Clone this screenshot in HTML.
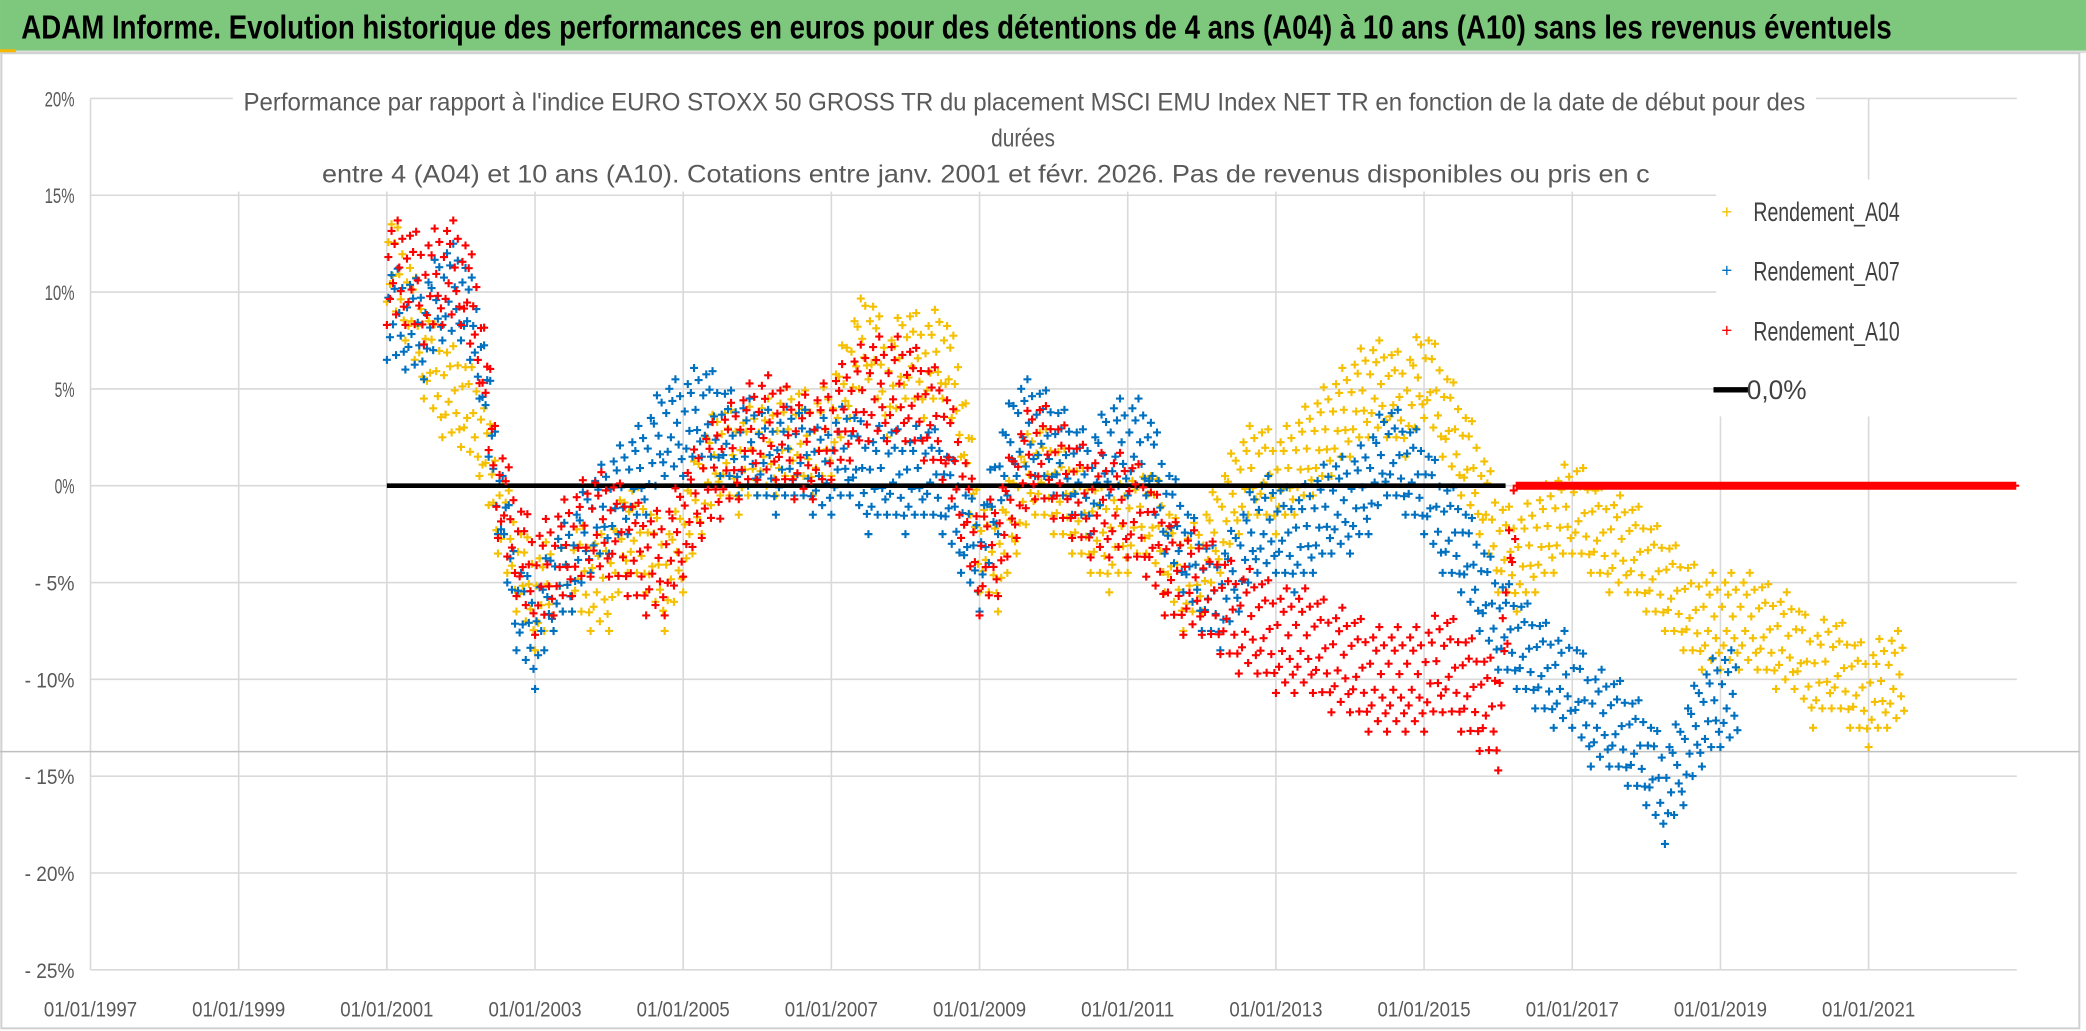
<!DOCTYPE html>
<html><head><meta charset="utf-8"><style>
html,body{margin:0;padding:0;background:#fff;}
svg{display:block;}
</style></head><body>
<svg id="chart" width="2086" height="1031" viewBox="0 0 1568 775" xmlns="http://www.w3.org/2000/svg" font-family="'Liberation Sans',sans-serif">
<rect x="0" y="0" width="1568" height="775" fill="#fff"/>
<rect x="0" y="0" width="1568" height="38" fill="#7dc87d"/>
<rect x="0" y="38" width="1568" height="2" fill="#ddd"/>
<rect x="0" y="37" width="12" height="3" fill="#f5b800"/>
<text x="16" y="29" font-size="25" font-weight="bold" fill="#000" textLength="1406" lengthAdjust="spacingAndGlyphs">ADAM Informe. Evolution historique des performances en euros pour des détentions de 4 ans (A04) à 10 ans (A10) sans les revenus éventuels</text>
<rect x="1" y="40" width="1562" height="733" fill="none" stroke="#d0d0d0" stroke-width="1.5"/>
<g id="grid"></g>
<g id="axes"></g>
<g id="points"></g>
<rect x="175" y="60" width="1190" height="84" fill="#fff"/>
<g font-size="19" fill="#595959">
<text x="183" y="83" textLength="1174" lengthAdjust="spacingAndGlyphs">Performance  par rapport à l'indice EURO STOXX 50 GROSS TR  du placement MSCI EMU Index NET TR en fonction de la date de début pour des</text>
<text x="745" y="110" textLength="48" lengthAdjust="spacingAndGlyphs">durées</text>
<text x="242" y="137" textLength="998" lengthAdjust="spacingAndGlyphs">entre 4 (A04) et 10 ans (A10). Cotations entre janv. 2001 et févr. 2026. Pas de revenus disponibles ou pris en c</text>
</g>
<g>
<rect x="1290" y="135" width="228" height="178" fill="#fff"/>
<g><text x="1298" y="164" font-size="14" fill="#f5c000" text-anchor="middle">+</text><text x="1318" y="166" font-size="20" fill="#404040" textLength="110" lengthAdjust="spacingAndGlyphs">Rendement_A04</text></g>
<g><text x="1298" y="208" font-size="14" fill="#0070c0" text-anchor="middle">+</text><text x="1318" y="211" font-size="20" fill="#404040" textLength="110" lengthAdjust="spacingAndGlyphs">Rendement_A07</text></g>
<g><text x="1298" y="253" font-size="14" fill="#ff0000" text-anchor="middle">+</text><text x="1318" y="256" font-size="20" fill="#404040" textLength="110" lengthAdjust="spacingAndGlyphs">Rendement_A10</text></g>
<g><line x1="1288" y1="293" x2="1314" y2="293" stroke="#000" stroke-width="4"/><text x="1313" y="300" font-size="20" fill="#404040" textLength="45" lengthAdjust="spacingAndGlyphs">0,0%</text></g>
</g>
</svg>
<script>
const yTicks=[20,15,10,5,0,-5,-10,-15,-20,-25];
const yTickLabels=["20%","15%","10%","5%","0%","- 5%","- 10%","- 15%","- 20%","- 25%"];
const xTicks=[1997,1999,2001,2003,2005,2007,2009,2011,2013,2015,2017,2019,2021];
const xTickLabels=["01/01/1997","01/01/1999","01/01/2001","01/01/2003","01/01/2005","01/01/2007","01/01/2009","01/01/2011","01/01/2013","01/01/2015","01/01/2017","01/01/2019","01/01/2021"];
const startYear=2001, stepYears=0.25;
const a04=[12,10,7,5,4.5,3,-1,-4,-6,-5,-4,-5,-5,-2,-3,-5,-3,0,2,1,2,2,3,2,3,6,8,5,7,6,7,4,-3,-4,-1,1,0,-1,-2,-3,-2,-1,-3,-5,-4,-2,0,1,0,1,2,3,4,5,5,4,6,4,2,0,-3,-4,-3,-2,-1,-2,-3,-3,-4,-5,-6,-7,-7,-7,-7,-8,-8,-10,-9,-10,-11,-10];
const a07=[9,8.5,8,10,10,7,0,-6,-8,-5,-4,-2,-1,0,1,3,3,4,3,2,2,1,2,1,1,2,0,1,0,1,0,-2,-4,0,3,3,2,1,0,2,2,2,-1,-3,-5,-6,-4,-2,-2,-3,-2,-1,-1,0,2,1,0,-2,-3,-5,-7,-8,-9,-10,-10,-12,-12,-13,-14,-16,-14,-12,-11];
const a10=[11,11,10,11,11,8,0,-3,-5,-4,-3,-2,-2,-3,-4,-4,-2,0,1,2,3,3,2,2,3,4,5,5,5,4,3,0,-4,-3,0,2,1,0,-1,-1,-1,-2,-4,-5,-5,-6,-7,-7,-8,-8,-8,-9,-9,-10,-10,-10,-10,-9,-10,-11,-12,0,0,0,0,0,0,0,0,0,0,0,0,0,0,0,0,0,0,0,0,0,0,0,0,0,0,0];
const a04Spread=2.5, a07Spread=2.5, a10Spread=2.7;
const zeroLineStart=2001, zeroLineEnd=2016.1;

const NS="http://www.w3.org/2000/svg";
const X0=68, X1=1516, Y0=74, Y1=729;
function xs(yr){return X0+(yr-1997)*(X1-X0)/26;}
function ys(v){return Y0+(20-v)*(Y1-Y0)/45;}
function mk(tag,attrs,parent){const e=document.createElementNS(NS,tag);for(const k in attrs)e.setAttribute(k,attrs[k]);parent.appendChild(e);return e;}
const grid=document.getElementById('grid'), axes=document.getElementById('axes'), pts=document.getElementById('points');
yTicks.forEach((t,i)=>{
  const l=mk('line',{x1:X0,x2:X1,y1:ys(t),y2:ys(t),stroke:'#d9d9d9','stroke-width':1.2},grid);
  
  
  const lab=yTickLabels[i];
  const tx=mk('text',{x:56,y:ys(t)+6,'font-size':16,fill:'#595959','text-anchor':'end',textLength:lab.length*7.5,lengthAdjust:'spacingAndGlyphs'},axes);
  tx.textContent=lab;
  
  
});
xTicks.forEach((t,i)=>{
  const l=mk('line',{x1:xs(t),x2:xs(t),y1:Y0,y2:Y1,stroke:'#d9d9d9','stroke-width':1.2},grid);
  
  
  const tx=mk('text',{x:xs(t)-35,y:Y1+35,'font-size':16,fill:'#595959',textLength:70,lengthAdjust:'spacingAndGlyphs'},axes);
  tx.textContent=xTickLabels[i];
  
  
});
const oddLine=mk('line',{x1:0,x2:1563,y1:565,y2:565,stroke:'#bfbfbf','stroke-width':1.2},grid);


const offs=[-1,0.3,-0.5,0.8,-0.2,0.55,-0.8,1,0.1,-0.35,0.65,-0.65];
function series(arr,spread,color,name){
  const g=mk('g',{},pts);
  
  
  let d='';
  for(let i=0;i<arr.length;i++){
    const nxt=i+1<arr.length?arr[i+1]:arr[i];
    const sp=(arr[i]===0&&nxt===0&&name==='series-a10')?0:spread;
    for(let k=0;k<offs.length;k++){
      const f=k/offs.length;
      const v=arr[i]+(nxt-arr[i])*f+offs[k]*sp;
      const x=xs(startYear+(i+f)*stepYears), y=ys(v);
      d+=`M${(x-3).toFixed(1)} ${y.toFixed(1)}h6M${x.toFixed(1)} ${(y-3).toFixed(1)}v6`;
    }
  }
  const p=mk('path',{d:d,stroke:color,'stroke-width':1.6,fill:'none'},g);
  
  
}
series(a04,a04Spread,'#f5c000','series-a04');
series(a07,a07Spread,'#0070c0','series-a07');
const z=mk('line',{x1:xs(zeroLineStart),x2:xs(zeroLineEnd),y1:ys(0),y2:ys(0),stroke:'#000','stroke-width':3.5},pts);


series(a10,a10Spread,'#ff0000','series-a10');
</script>
</body></html>
